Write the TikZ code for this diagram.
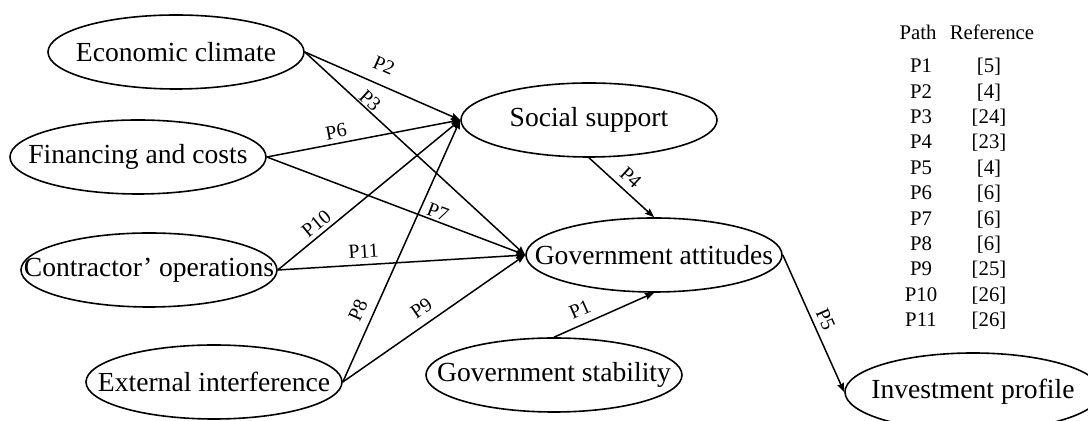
\documentclass[tikz,border=0pt]{standalone}
\usepackage{fontspec}
\setmainfont{Liberation Serif}
\usetikzlibrary{arrows.meta,shapes.geometric}

\begin{document}
\begin{tikzpicture}[
    x=0.5pt, y=-0.5pt,                      % <- one unit = one pixel of the layout, y runs down
    factor/.style={ellipse, draw, line width=0.8pt, minimum width=128pt, minimum height=37pt, inner sep=0pt},
    every label/.style={font=\fontsize{13.8}{16}\selectfont, inner sep=0pt},
    conn/.style={line width=0.75pt, -{Stealth[length=4.5pt, width=3.4pt, inset=0.6pt]}},
    plbl/.style={font=\fontsize{10}{12}\selectfont, sloped, above, inner xsep=0pt},
    tbl/.style={font=\fontsize{10.4}{12}\selectfont, inner sep=0pt, anchor=base},
  ]
  \clip (0,0) rectangle (1088,421);

  % ---------- constructs ----------
  \node[factor, label=center:Economic climate]        (econ)  at (176,52)  {};
  \node[factor, label=center:Financing and costs]     (fin)   at (138,157) {};
  \node[factor, label=center:Contractor' operations]  (contr) at (149,270) {};
  \node[factor, label=center:External interference]   (extf)  at (214,382) {};
  \node[factor, label=center:Social support]          (soc)   at (589,120) {};
  \node[factor, label=center:Government attitudes]    (gatt)  at (654,255) {};
  \node[factor, label=center:Government stability]    (gstab) at (554,375) {};
  \node[factor, minimum height=39pt, label=center:Investment profile] (inv) at (973,392) {};

  % ---------- paths into social support ----------
  \draw[conn] (econ.east)  -- (soc.west)  node[plbl, pos=0.46, inner ysep=6pt]   (lp2)  {P2};
  \draw[conn] (fin.east)   -- (soc.west)  node[plbl, pos=0.37, inner ysep=2.2pt] (lp6)  {P6};
  \draw[conn] (contr.east) -- (soc.west)  node[plbl, pos=0.25, inner ysep=1.8pt] (lp10) {P10};
  \draw[conn] (extf.east)  -- (soc.west)  node[plbl, pos=0.25, inner ysep=4pt]   (lp8)  {P8};

  % ---------- paths into government attitudes ----------
  \draw[conn] (econ.east)  -- (gatt.west) node[plbl, pos=0.27, inner ysep=0.5pt] (lp3)  {P3};
  \draw[conn] (fin.east)   -- (gatt.west) node[plbl, pos=0.65, inner ysep=0.8pt] (lp7)  {P7};
  \draw[conn] (contr.east) -- (gatt.west) node[plbl, pos=0.35, inner ysep=3pt]   (lp11) {P11};
  \draw[conn] (extf.east)  -- (gatt.west) node[plbl, pos=0.48, inner ysep=4.1pt] (lp9)  {P9};
  \draw[conn] (soc.south)  -- (gatt.north) node[plbl, pos=0.5, inner ysep=3.2pt] (lp4)  {P4};
  \draw[conn] (gstab.north) -- (gatt.south) node[plbl, pos=0.32, inner ysep=3.8pt] (lp1) {P1};

  % ---------- outcome ----------
  \draw[conn] (gatt.east)  -- (inv.west)  node[plbl, pos=0.51, inner ysep=2.6pt] (lp5)  {P5};

  % ---------- path / reference table ----------
  \node[tbl] (hpath) at (918,39.3) {Path};
  \node[tbl] (href)  at (992,39.3) {Reference};
  \foreach \i/\r in {1/5, 2/4, 3/24, 4/23, 5/4, 6/6, 7/6, 8/6, 9/25, 10/26, 11/26}{%
    \node[tbl] (pth\i) at (921,{72.7+(\i-1)*25.4}) {P\i};
    \node[tbl] (ref\i) at (989,{72.7+(\i-1)*25.4}) {[\r]};
  }

\end{tikzpicture}
\end{document}
